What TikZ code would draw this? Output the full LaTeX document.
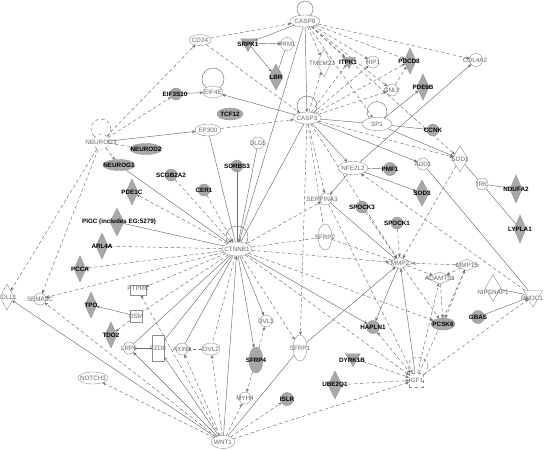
\documentclass[tikz,border=0pt]{standalone}
\usepackage{fontspec}
\setmainfont{Liberation Sans}
\usetikzlibrary{shapes.geometric,arrows.meta,backgrounds}
\definecolor{nline}{gray}{0.55}
\definecolor{gfill}{gray}{0.66}
\definecolor{gline}{gray}{0.58}
\definecolor{eline}{gray}{0.42}
\definecolor{wtext}{gray}{0.40}
\begin{document}
\begin{tikzpicture}[x=1pt,y=-1pt,
 base/.style={inner sep=0pt,outer sep=0pt},
 wc/.style={base,circle,draw=nline,fill=white,line width=0.4pt,minimum size=#1},
 wc/.default=12pt,
 gc/.style={base,circle,draw=gline,fill=gfill,line width=0.4pt,minimum size=#1},
 gc/.default=12pt,
 we/.style 2 args={base,ellipse,draw=nline,fill=white,line width=0.4pt,minimum width=#1,minimum height=#2},
 ge/.style 2 args={base,ellipse,draw=gline,fill=gfill,line width=0.4pt,minimum width=#1,minimum height=#2},
 wd/.style 2 args={base,diamond,draw=nline,fill=white,line width=0.4pt,minimum width=#1,minimum height=#2},
 gd/.style 2 args={base,diamond,draw=gline,fill=gfill,line width=0.4pt,minimum width=#1,minimum height=#2},
 gt/.style={base,regular polygon,regular polygon sides=3,shape border rotate=180,draw=gline,fill=gfill,line width=0.4pt,minimum size=#1},
 gt/.default=17pt,
 wt/.style={base,regular polygon,regular polygon sides=3,shape border rotate=180,draw=nline,fill=white,line width=0.4pt,minimum size=#1},
 wr/.style 2 args={base,rectangle,draw=nline,fill=white,line width=0.4pt,minimum width=#1,minimum height=#2},
 wl/.style={base,font=\fontsize{6.3}{7}\selectfont,text=wtext},
 bl/.style={base,font=\fontsize{6.3}{7}\selectfont\bfseries,text=black},
 con/.style={draw=eline,line width=0.45pt},
 sa/.style={con,-{Stealth[length=3.5pt,width=3pt]}},
 sn/.style={con},
 da/.style={con,dash pattern=on 3.5pt off 2.5pt,-{Stealth[length=3.5pt,width=3pt]}},
 dn/.style={con,dash pattern=on 3.5pt off 2.5pt},
]
\useasboundingbox (0,0) rectangle (544,450);

% ---------- node shapes ----------
\node[we={30pt}{12pt}] (CASP8) at (305,21) {};
\node[we={22pt}{11pt}] (CD24) at (200,40) {};
\node[gt] (SRPK1) at (248,43) {};
\node[wc=13pt] (PRM1) at (287,44) {};
\node[gd={14pt}{26pt}] (LBR) at (276,77) {};
\node[wd={14pt}{28pt}] (TMEM23) at (324,63) {};
\node[gt=15pt] (ITPK1) at (349,61) {};
\node[wc] (HIP1) at (373,62) {};
\node[gd={12pt}{26pt}] (PDCD8) at (410,61) {};
\node[wc] (GNLY) at (392,90) {};
\node[gd={12pt}{26pt}] (PDE6B) at (423,87) {};
\node[wc=13pt] (COL4A2) at (476,60) {};
\node[we={20pt}{12pt}] (EIF4E) at (213,92) {};
\node[gc] (EIF3S10) at (176,94) {};
\node[ge={26pt}{12pt}] (TCF12) at (230,114) {};
\node[we={26pt}{12pt}] (EP300) at (208,130) {};
\node[we={28pt}{12pt}] (CASP3) at (307,118) {};
\node[we={30pt}{13pt}] (SP1) at (377,124) {};
\node[gc] (CCNK) at (433,130) {};
\node[wc=16pt,dashed] (NEUROG3) at (101,142) {};
\node[ge={32pt}{11pt}] (NEUROD2) at (146,149) {};
\node[ge={32pt}{11pt}] (NEUROG1) at (119,165) {};
\node[gc] (SCGB2A2) at (171,175) {};
\node[wc] (DLG5) at (258,143) {};
\node[gc] (SORBS3) at (237,166) {};
\node[gc] (CER1) at (204,190) {};
\node[gd={12pt}{26pt}] (PDE1C) at (132,192) {};
\node[gd={14pt}{28pt}] (PIGC) at (117,222) {};
\node[gd={12pt}{26pt}] (ARL4A) at (102,246) {};
\node[gd={12pt}{26pt}] (PCCA) at (80,269) {};
\node[we={30pt}{14pt}] (CTNNB1) at (237,249) {};
\node[we={30pt}{13pt}] (NFE2L2) at (353,168) {};
\node[gc=13pt] (PMF1) at (390,169) {};
\node[wc] (ADD1) at (423,164) {};
\node[wd={16pt}{26pt}] (SOD1) at (460,159) {};
\node[gd={14pt}{26pt}] (SOD3) at (422,193) {};
\node[wc] (IRK) at (482,184) {};
\node[gd={12pt}{28pt}] (NDUFA2) at (516,189) {};
\node[gd={12pt}{28pt}] (LYPLA1) at (520,229) {};
\node[wc] (SERPINA3) at (326,199) {};
\node[we={14pt}{26pt}] (SFRP2) at (325,237) {};
\node[gc] (SPOCK3) at (362,207) {};
\node[gc] (SPOCK1) at (397,223) {};
\node[wd={26pt}{12pt}] (MMP2) at (400,263) {};
\node[wd={24pt}{12pt}] (MMP15) at (467,265) {};
\node[wd={28pt}{12pt}] (ADAMTS1) at (440,278) {};
\node[wd={16pt}{26pt}] (NIPSNAP1) at (493,288) {};
\node[wt=22pt] (PNOC1) at (533,296) {};
\node[wd={14pt}{26pt}] (DLL1) at (7,297) {};
\node[wc] (SEMA3C) at (40,299) {};
\node[wr={16pt}{10pt}] (PTPRK) at (138,290) {};
\node[gd={12pt}{26pt}] (TPO) at (91,305) {};
\node[wr={12pt}{12pt}] (DSM) at (136,316) {};
\node[gd={12pt}{26pt}] (TDO2) at (111,335) {};
\node[wc] (LRP6) at (129,348) {};
\node[wr={12pt}{26pt}] (FZD8) at (158,348) {};
\node[wc] (AXIN1) at (182,349) {};
\node[we={18pt}{12pt}] (DVL2) at (211,349) {};
\node[wc] (DVL3) at (266,321) {};
\node[ge={14pt}{26pt}] (SFRP4) at (256,360) {};
\node[we={14pt}{26pt}] (SFRP1) at (300,348) {};
\node[gt] (DYRK1B) at (353,358) {};
\node[gd={14pt}{28pt}] (UBE2Q1) at (335,385) {};
\node[wc] (MYH4) at (245,398) {};
\node[gc=13pt] (ISLR) at (287,399) {};
\node[we={24pt}{13pt}] (WNT1) at (223,442) {};
\node[we={30pt}{12pt}] (NOTCH3) at (93,378) {};
\node[gc=13pt] (HAPLN1) at (373,327) {};
\node[ge={24pt}{12pt}] (PCSK6) at (443,324) {};
\node[gc=13pt] (GBAS) at (478,317) {};
\node[wr={14pt}{14pt},dashed] (IGF1) at (416,380) {};

% ---------- labels ----------
\node[wl] (CASP8-t) at (305,21) {CASP8};
\node[wl] (CD24-t) at (200,40) {CD24};
\node[bl] (SRPK1-t) at (248,44) {SRPK1};
\node[wl] (PRM1-t) at (287,44) {PRM1};
\node[bl] (LBR-t) at (276,77) {LBR};
\node[wl] (TMEM23-t) at (322,63) {TMEM23};
\node[bl] (ITPK1-t) at (348,62) {ITPK1};
\node[wl] (HIP1-t) at (373,62) {HIP1};
\node[bl] (PDCD8-t) at (409,61) {PDCD8};
\node[wl] (GNLY-t) at (392,90) {GNLY};
\node[bl] (PDE6B-t) at (423,87) {PDE6B};
\node[wl] (COL4A2-t) at (475,60) {COL4A2};
\node[wl] (EIF4E-t) at (213,92) {EIF4E};
\node[bl] (EIF3S10-t) at (175,94) {EIF3S10};
\node[bl] (TCF12-t) at (230,114) {TCF12};
\node[wl] (EP300-t) at (208,130) {EP300};
\node[wl] (CASP3-t) at (307,118) {CASP3};
\node[wl] (SP1-t) at (377,124) {SP1};
\node[bl] (CCNK-t) at (433,130) {CCNK};
\node[wl] (NEUROG3-t) at (101,142) {NEUROG3};
\node[bl] (NEUROD2-t) at (146,149) {NEUROD2};
\node[bl] (NEUROG1-t) at (119,165) {NEUROG1};
\node[bl] (SCGB2A2-t) at (171,175) {SCGB2A2};
\node[wl] (DLG5-t) at (258,143) {DLG5};
\node[bl] (SORBS3-t) at (237,166) {SORBS3};
\node[bl] (CER1-t) at (204,190) {CER1};
\node[bl] (PDE1C-t) at (132,192) {PDE1C};
\node[bl] (PIGC-t) at (119,222) {PIGC (includes EG:5279)};
\node[bl] (ARL4A-t) at (102,246) {ARL4A};
\node[bl] (PCCA-t) at (80,269) {PCCA};
\node[wl] (CTNNB1-t) at (237,249) {CTNNB1};
\node[wl] (NFE2L2-t) at (353,168) {NFE2L2};
\node[bl] (PMF1-t) at (390,169) {PMF1};
\node[wl] (ADD1-t) at (423,164) {ADD1};
\node[wl] (SOD1-t) at (460,159) {SOD1};
\node[bl] (SOD3-t) at (422,193) {SOD3};
\node[wl] (IRK-t) at (482,184) {IRK};
\node[bl] (NDUFA2-t) at (516,189) {NDUFA2};
\node[bl] (LYPLA1-t) at (520,229) {LYPLA1};
\node[wl] (SERPINA3-t) at (322,199) {SERPINA3};
\node[wl] (SFRP2-t) at (325,237) {SFRP2};
\node[bl] (SPOCK3-t) at (362,207) {SPOCK3};
\node[bl] (SPOCK1-t) at (397,223) {SPOCK1};
\node[wl] (MMP2-t) at (400,263) {MMP2};
\node[wl] (MMP15-t) at (467,265) {MMP15};
\node[wl] (ADAMTS1-t) at (440,278) {ADAMTS1};
\node[wl] (NIPSNAP1-t) at (493,292) {NIPSNAP1};
\node[wl] (PNOC1-t) at (532,298) {PNOC1};
\node[wl] (DLL1-t) at (9,297) {DLL1};
\node[wl] (SEMA3C-t) at (40,299) {SEMA3C};
\node[wl] (PTPRK-t) at (138,288) {PTPRK};
\node[bl] (TPO-t) at (91,305) {TPO};
\node[wl] (DSM-t) at (136,316) {DSM};
\node[bl] (TDO2-t) at (111,335) {TDO2};
\node[wl] (LRP6-t) at (129,348) {LRP6};
\node[wl] (FZD8-t) at (158,348) {FZD8};
\node[wl] (AXIN1-t) at (182,349) {AXIN1};
\node[wl] (DVL2-t) at (211,349) {DVL2};
\node[wl] (DVL3-t) at (266,321) {DVL3};
\node[bl] (SFRP4-t) at (256,360) {SFRP4};
\node[wl] (SFRP1-t) at (300,348) {SFRP1};
\node[bl] (DYRK1B-t) at (352,360) {DYRK1B};
\node[bl] (UBE2Q1-t) at (335,385) {UBE2Q1};
\node[wl] (MYH4-t) at (245,398) {MYH4};
\node[bl] (ISLR-t) at (287,399) {ISLR};
\node[wl] (WNT1-t) at (223,442) {WNT1};
\node[wl] (NOTCH3-t) at (93,378) {NOTCH3};
\node[bl] (HAPLN1-t) at (373,327) {HAPLN1};
\node[bl] (PCSK6-t) at (443,324) {PCSK6};
\node[bl] (GBAS-t) at (478,317) {GBAS};
\node[wl] (IGF1-t) at (416,380) {IGF1};

% ---------- connectors ----------
\begin{pgfonlayer}{background}
% self loops
\draw[sn] ([yshift=6pt]CASP8.north) circle[radius=8pt];
\draw[sn] ([yshift=7pt]EIF4E.north) circle[radius=11pt];
\draw[sn] ([yshift=6pt]CASP3.north) circle[radius=10pt];
\draw[sn] ([yshift=6pt]SP1.north) circle[radius=10pt];
\draw[dn] ([yshift=5pt]NEUROG3.north) circle[radius=10pt];
\draw[sn] ([yshift=5pt]CTNNB1.north) circle[radius=11pt];
\draw[dn] ([xshift=2pt,yshift=6pt]IGF1.north) circle[radius=10pt];

% top cluster
\draw[da] (CD24) -- (CASP8);
\draw[da] (NEUROG3) -- (CD24);
\draw[da] (CD24) -- (CASP3);
\draw[da] (NEUROG3) -- (EIF3S10);
\draw[sa] (NEUROG3) -- (EP300);
\draw[dn] (NEUROG3) -- (NEUROD2);
\draw[da] (NEUROG3) -- (NEUROG1);
\draw[da] (NEUROG3) -- (DLL1);
\draw[da] (NEUROG3) -- (SEMA3C);
\draw[sa] (EIF3S10) -- (EIF4E);
\draw[sa] (CASP3) -- (EIF4E);
\draw[da] (EP300) -- (CASP3);
\draw[sn] (EP300) -- (CTNNB1);
\draw[sa] (SRPK1) -- (PRM1);
\draw[sa] (SRPK1) -- (LBR);
\draw[sn] (PRM1) -- (LBR);
\draw[sa] (CASP8) -- (SRPK1);
\draw[sa] (CASP8) -- (CASP3);
\draw[sa] (CASP8) -- (CTNNB1);
\draw[da] (CASP8) -- (TMEM23);
\draw[da] (CASP8) -- (ITPK1);
\draw[da] (CASP8) -- (HIP1);
\draw[da] (CASP8) -- (PDCD8);
\draw[da] (CASP8) -- (COL4A2);
\draw[da] (CASP8) -- (GNLY);
\draw[da] (CASP8) -- (SP1);
\draw[da] (CASP8) -- (SOD1);
\draw[da] (CASP3) -- (TMEM23);
\draw[da] (CASP3) -- (ITPK1);
\draw[da] (CASP3) -- (HIP1);
\draw[da] (CASP3) -- (PDCD8);
\draw[da] (CASP3) -- (GNLY);
\draw[da] (GNLY) -- (PDCD8);
\draw[sa] (SP1) -- (PDE6B);
\draw[sa] (SP1) -- (CCNK);
\draw[sa] (SP1) -- (SOD1);
\draw[sn] (CASP3) -- (SP1);
\draw[sa] (CASP3) -- (ADD1);
\draw[sa] (CASP3) -- (NFE2L2);
\draw[da] (CASP3) -- (SOD1);
\draw[da] (CASP3) -- (SERPINA3);
\draw[da] (CASP3) -- (MMP2);
\draw[da] (CASP3) -- (SFRP1);
\draw[dn] (CASP3) -- (SFRP2);
\draw[sn] (CASP3) -- (CTNNB1);
% right cluster
\draw[sa] (NFE2L2) -- (COL4A2);
\draw[sn] (NFE2L2) -- (PMF1);
\draw[sa] (NFE2L2) -- (SOD3);
\draw[sa] (NFE2L2) -- (SERPINA3);
\draw[da] (PNOC1) -- (NFE2L2);
\draw[sn] (ADD1) -- (PNOC1);
\draw[sn] (SOD1) -- (IRK);
\draw[sn] (IRK) -- (NDUFA2);
\draw[sn] (IRK) -- (LYPLA1);
\draw[da] (SOD1) -- (MMP2);
\draw[da] (SPOCK3) -- (MMP2);
\draw[da] (SPOCK1) -- (MMP2);
\draw[da] (MMP15) -- (MMP2);
\draw[da] (MMP2) -- (ADAMTS1);
\draw[da] (MMP15) -- (ADAMTS1);
\draw[da] (CTNNB1) -- (MMP2);
\draw[dn] (SFRP2) -- (MMP2);
\draw[sn] (SERPINA3) -- (MMP2);
\draw[sa] (SFRP1) -- (MMP2);
\draw[sa] (IGF1) -- (MMP2);
\draw[sa] (MMP2) -- (HAPLN1);
\draw[da] (MMP2) -- (PCSK6);
\draw[da] (MMP15) -- (PCSK6);
\draw[da] (ADAMTS1) -- (PCSK6);
\draw[da] (IGF1) -- (ADAMTS1);
\draw[da] (IGF1) -- (MMP15);
\draw[sn] (NIPSNAP1) -- (PNOC1);
\draw[sa] (GBAS) -- (PNOC1);
\draw[da] (IGF1) -- (PNOC1);
\draw[{Stealth[length=3.5pt,width=3pt]}-{Stealth[length=3.5pt,width=3pt]},con,dash pattern=on 3.5pt off 2.5pt] (HAPLN1) -- (IGF1);
\draw[da] (DYRK1B) -- (IGF1);
\draw[da] (UBE2Q1) -- (IGF1);
\draw[da] (WNT1) -- (IGF1);
\draw[da] (CTNNB1) -- (IGF1);
\draw[sa] (CTNNB1) -- (HAPLN1);
\draw[da] (CTNNB1) -- (PCSK6);
\draw[da] (CTNNB1) -- (SERPINA3);
\draw[dn] (CTNNB1) -- (SFRP2);
\draw[da] (SERPINA3) -- (IGF1);
% bottom cluster
\draw[sn] (SFRP1) -- (WNT1);
\draw[sa] (WNT1) -- (DLL1);
\draw[da] (WNT1) -- (SEMA3C);
\draw[da] (WNT1) -- (NOTCH3);
\draw[sa] (WNT1) -- (LRP6);
\draw[sa] (WNT1) -- (FZD8);
\draw[da] (WNT1) -- (AXIN1);
\draw[da] (WNT1) -- (DVL2);
\draw[da] (WNT1) -- (MYH4);
\draw[da] (WNT1) -- (ISLR);
\draw[sa] (WNT1) -- (CTNNB1);
\draw[da] (WNT1) -- (PTPRK);
\draw[sn] (LRP6) -- (FZD8);
\draw[da] (DVL2) -- (AXIN1);
\draw[da] (SFRP4) -- (MYH4);
\draw[da] (SFRP4) -- (DVL3);
\draw[sa] (CTNNB1) -- (DVL3);
\draw[sa] (CTNNB1) -- (SFRP4);
\draw[da] (CTNNB1) -- (SFRP1);
\draw[dn] (CTNNB1) -- (DVL2);
\draw[sn] (CTNNB1) -- (AXIN1);
\draw[sn] (CTNNB1) -- (FZD8);
\draw[sn] (CTNNB1) -- (LRP6);
\draw[dn] (CTNNB1) -- (DSM);
\draw[sa] (DSM) -- (TPO);
\draw[da] (DSM) -- (TDO2);
\draw[da] (CTNNB1) -- (PTPRK);
\draw[da] (CTNNB1) -- (SEMA3C);
\draw[da] (CTNNB1) -- (PCCA);
\draw[da] (CTNNB1) -- (ARL4A);
\draw[sn] (PIGC) -- (CTNNB1);
\draw[da] (CTNNB1) -- (PDE1C);
\draw[sn] (NEUROG1) -- (CTNNB1);
\draw[da] (SCGB2A2) -- (CTNNB1);
\draw[da] (CER1) -- (CTNNB1);
\draw[sn] (SORBS3) -- (CTNNB1);
\draw[sn] (DLG5) -- (CTNNB1);
\end{pgfonlayer}
\end{tikzpicture}
\end{document}
